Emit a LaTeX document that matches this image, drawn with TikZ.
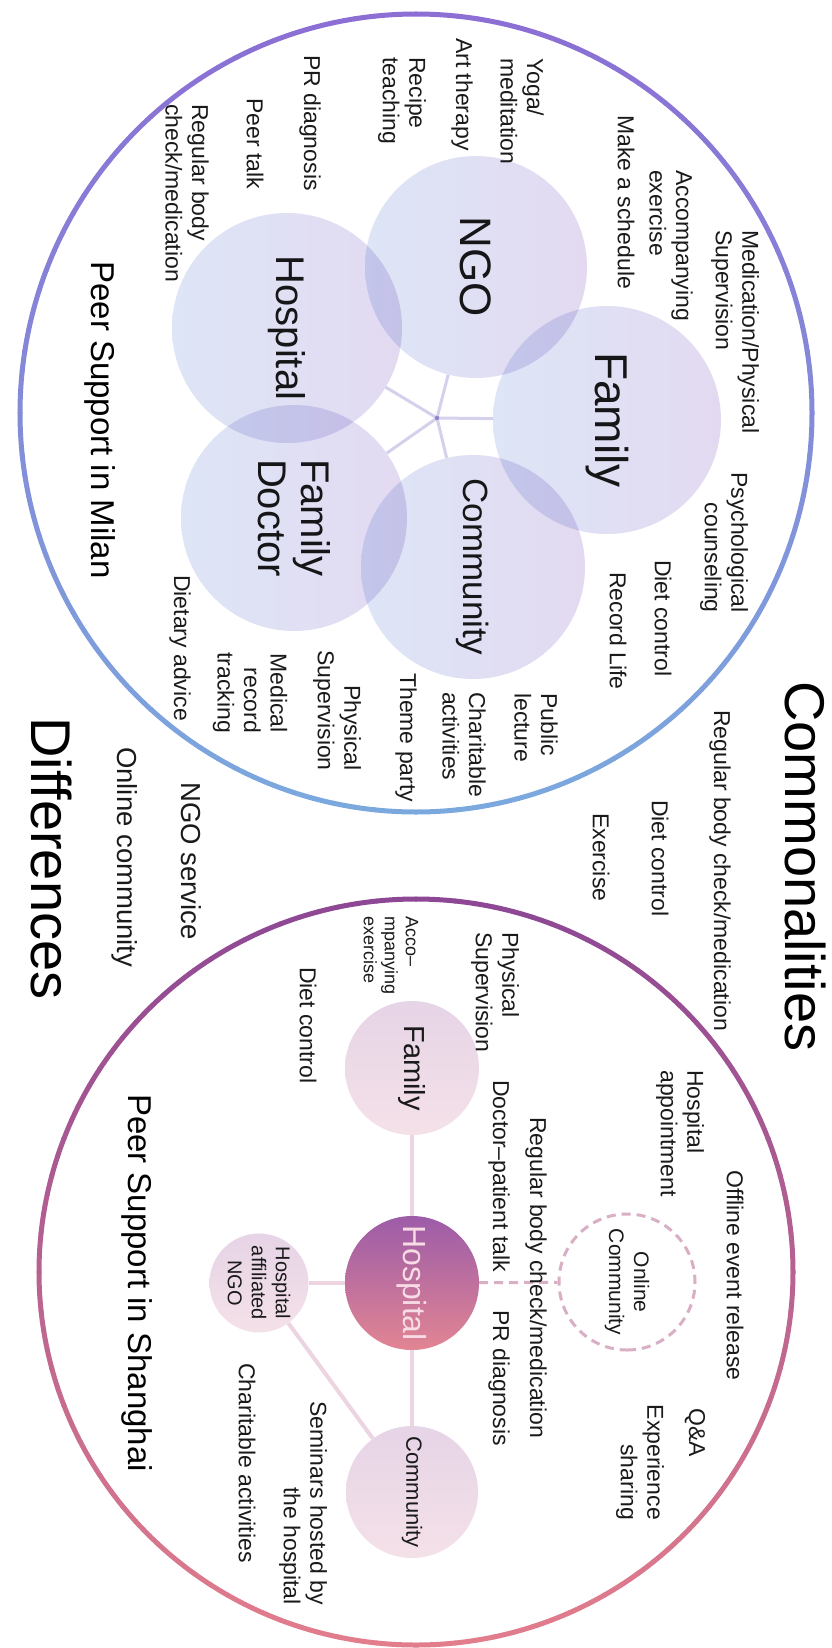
\documentclass[tikz,border=0pt]{standalone}
\usepackage{fontspec}
\setmainfont{Liberation Sans}
\usetikzlibrary{shapes.geometric}
\definecolor{milanTop}{HTML}{8C6ED4}
\definecolor{milanBot}{HTML}{7BA9DE}
\definecolor{shTop}{HTML}{8D4794}
\definecolor{shBot}{HTML}{E27D8C}
\definecolor{lav}{HTML}{E3DAF2}
\definecolor{pale}{HTML}{DDE5F6}
\definecolor{spokec}{HTML}{D5D0EC}
\definecolor{hubc}{HTML}{8F86C9}
\definecolor{hospTop}{HTML}{9C5CA8}
\definecolor{hospBot}{HTML}{E28593}
\definecolor{pinkTop}{HTML}{E6D4E7}
\definecolor{pinkBot}{HTML}{F4E1E8}
\definecolor{linkc}{HTML}{ECD4E0}
\definecolor{dashc}{HTML}{D9AFC5}
\definecolor{ink}{HTML}{1A1A1A}
\definecolor{hosptext}{HTML}{F7DCE5}
\begin{document}
\begin{tikzpicture}[x=1pt,y=-1pt,
  lbl/.style={rotate=-90, inner sep=0pt, text=ink, font=\fontsize{23}{26.5}\selectfont},
  lblL/.style={lbl, align=left, anchor=west},
  lblR/.style={lbl, align=right, anchor=east},
  bigsize/.style={font=\fontsize{27.5}{31}\selectfont},
  smallsize/.style={font=\fontsize{18}{21}\selectfont},
  heading/.style={rotate=-90, inner sep=0pt, text=black, font=\fontsize{56}{60}\selectfont, anchor=west},
  areatitle/.style={rotate=-90, inner sep=0pt, text=black, font=\fontsize{33}{36}\selectfont},
  mcircle/.style={circle, rotate=-90, minimum size=#1, inner sep=0pt, left color=pale, right color=lav, draw=none, blend mode=multiply, text=ink, align=center},
  snode/.style={circle, rotate=-90, minimum size=#1, inner sep=0pt, top color=pinkTop, bottom color=pinkBot, draw=none, text=ink, align=center},
  spoke/.style={draw=spokec, line width=3pt},
  link/.style={draw=linkc, line width=4pt},
  dashlink/.style={draw=dashc, line width=3pt, dash pattern=on 9pt off 6pt}
]
\useasboundingbox (0,0) rectangle (832,1648);
\fill[white] (0,0) rectangle (832,1648);

% outer rings, stroked in short arcs so the colour runs from top to bottom
\foreach \ang in {0,3,...,357} {
  \pgfmathsetmacro{\mix}{50+50*sin(\ang+1.5)}
  \draw[line width=5pt, line cap=round, color=milanBot!\mix!milanTop]
    ({416+396*cos(\ang)},{413+399*sin(\ang)}) arc[start angle=\ang, end angle=\ang+3, x radius=396, y radius=399];
  \draw[line width=5pt, line cap=round, color=shBot!\mix!shTop]
    ({416+377*cos(\ang)},{1272+373*sin(\ang)}) arc[start angle=\ang, end angle=\ang+3, x radius=377, y radius=373];
}

% Milan: five overlapping circles around a hub
\node[mcircle=222pt, font=\fontsize{44}{48}\selectfont] (ngo) at (476,267) {NGO};
\node[mcircle=228pt, font=\fontsize{46}{50}\selectfont] (mfam) at (607,420) {Family};
\node[mcircle=224pt, font=\fontsize{35}{40}\selectfont] (mcom) at (473,567) {Community};
\node[mcircle=226pt, font=\fontsize{40}{43}\selectfont] (mdoc) at (294,518) {Family\\Doctor};
\node[mcircle=230pt, font=\fontsize{40}{44}\selectfont] (mhos) at (287,328) {Hospital};
\coordinate (hub) at (437,418);
\draw[spoke] (hub) -- (ngo);
\draw[spoke] (hub) -- (mfam);
\draw[spoke] (hub) -- (mcom);
\draw[spoke] (hub) -- (mdoc);
\draw[spoke] (hub) -- (mhos);
\fill[hubc] (hub) circle (2.2);

% Milan activities
\node[lblL] (m1) at (522,58) {Yoga/\\meditation};
\node[lblL] (m2) at (462,38) {Art therapy};
\node[lblL] (m3) at (402,57) {Recipe\\teaching};
\node[lblL] (m4) at (310,55) {PR diagnosis};
\node[lblL] (m5) at (255,98) {Peer talk};
\node[lblL] (m6) at (187,104) {Regular body\\check/medication};
\node[lblL] (m7) at (626,115) {Make a schedule};
\node[lblL] (m8) at (671,170) {Accompanying\\exercise};
\node[lblL] (m9) at (735,230) {Medication/Physical\\Supervision};
\node[lblR] (m10) at (724,613) {Psychological\\counseling};
\node[lblL] (m11) at (663,560) {Diet control};
\node[lblL] (m12) at (618,572) {Record Life};
\node[lblL] (m13) at (536,693) {Public\\lecture};
\node[lblL] (m14) at (464,692) {Charitable\\activities};
\node[lblL] (m15) at (406,673) {Theme party};
\node[lblR] (m16) at (337,771) {Physical\\Supervision};
\node[lblR] (m17) at (250,733) {Medical\\record\\tracking};
\node[lblL] (m18) at (180,575) {Dietary advice};
\node[areatitle] (mtitle) at (100,420) {Peer Support in Milan};

% shared and differing items
\node[heading] (common) at (806,681) {Commonalities};
\node[lblL] (c1) at (720,710) {Regular body check/medication};
\node[lblL] (c2) at (660,800) {Diet control};
\node[lblL] (c3) at (601,813) {Exercise};
\node[heading] (diff) at (52,717) {Differences};
\node[lblL, bigsize] (d1) at (191,782) {NGO service};
\node[lblL, bigsize] (d2) at (125,747) {Online community};

% Shanghai: hospital-centred network
\node[snode=134pt, font=\fontsize{29}{32}\selectfont] (sfam) at (412,1068) {Family};
\node[snode=134pt, top color=hospTop, bottom color=hospBot, text=hosptext, font=\fontsize{32}{34}\selectfont] (shos) at (412,1283) {Hospital};
\node[snode=132pt, font=\fontsize{22}{24}\selectfont] (scom) at (412,1492) {Community};
\node[snode=99pt, font=\fontsize{20}{24}\selectfont] (sngo) at (259,1283) {Hospital\\affiliated\\NGO};
\node[circle, rotate=-90, minimum size=136pt, inner sep=0pt, draw=dashc, line width=3pt, dash pattern=on 9pt off 6pt, text=ink, align=center, font=\fontsize{21}{25}\selectfont] (sonl) at (627,1282) {Online\\Community};
\draw[link] (sfam) -- (shos);
\draw[link] (shos) -- (scom);
\draw[link] (shos) -- (sngo);
\draw[link] (sngo) -- (scom);
\draw[dashlink] (shos) -- (sonl);

% Shanghai activities
\node[lblL] (s1) at (495,932) {Physical\\Supervision};
\node[lblL, smallsize] (s2) at (391,916) {Acco–\\mpanying\\exercise};
\node[lblL] (s3) at (308,967) {Diet control};
\node[lblL] (s4) at (680,1070) {Hospital\\appointment};
\node[lblL] (s5) at (536,1117) {Regular body check/medication};
\node[lblL] (s6) at (499,1080) {Doctor–patient talk};
\node[lblL] (s7) at (499,1310) {PR diagnosis};
\node[lblL] (s8) at (735,1170) {Offline event release};
\node[lblL] (s9) at (695,1408) {Q\&A};
\node[lblR] (s10) at (640,1520) {Experience\\sharing};
\node[lblR] (s11) at (303,1605) {Seminars hosted by\\the hospital};
\node[lblL] (s12) at (247,1363) {Charitable activities};
\node[areatitle] (stitle) at (137,1283) {Peer Support in Shanghai};
\end{tikzpicture}
\end{document}
